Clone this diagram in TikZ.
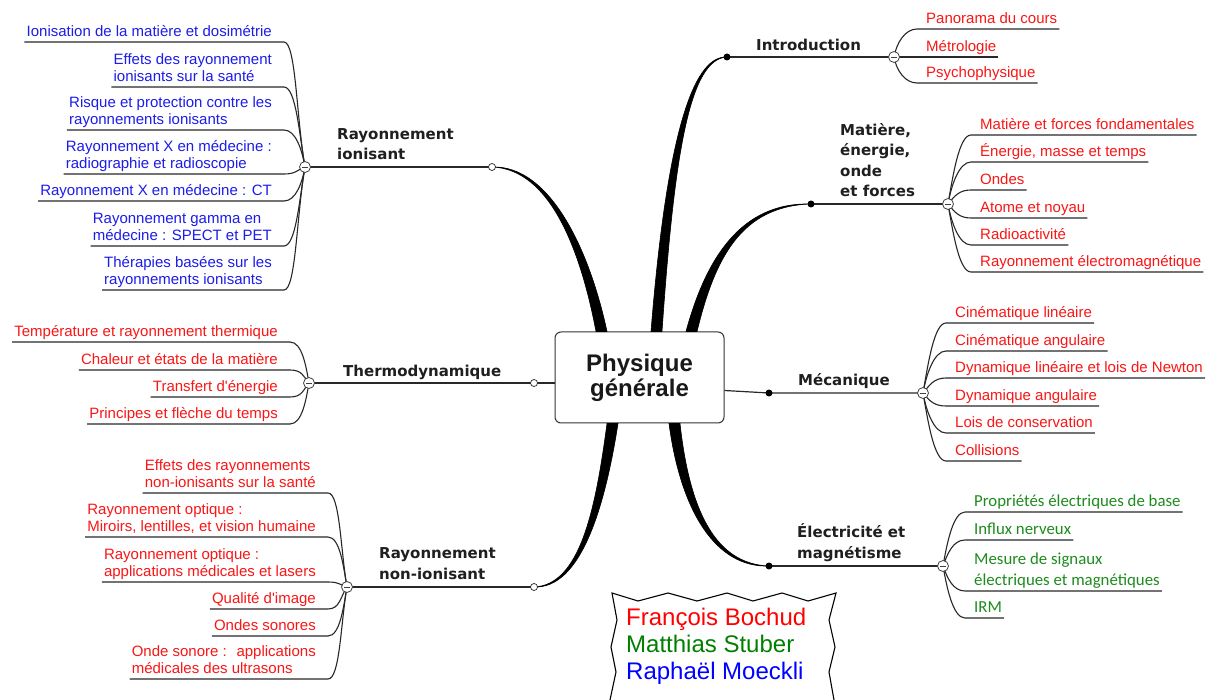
\documentclass[tikz,border=0pt]{standalone}
\usepackage{fontspec}
\setmainfont{Liberation Sans}
\newfontfamily\headfont{DejaVu Sans}
\newfontfamily\calfont{Carlito}
\usetikzlibrary{calc}
\definecolor{lred}{RGB}{250,22,22}
\definecolor{lblue}{RGB}{28,28,235}
\definecolor{lgreen}{RGB}{30,140,30}
\definecolor{agreen}{RGB}{0,128,0}
\definecolor{ablue}{RGB}{0,0,255}
\definecolor{ared}{RGB}{255,0,0}
\definecolor{linec}{RGB}{40,40,40}
\newcommand\ml[1]{\begin{tabular}[b]{@{}l@{}}#1\end{tabular}}
% left leaf: opts, name, circle, x of text right, y of underline, out angle, text
\newcommand\lleaf[7]{%
  \node[leafL,#1] (#2) at (#4,#5-5.5) {\ml{#7}};
  \draw[fan] (#3) to[out=#6,in=0,in distance=12pt] ($(#2.base east)+(12,5.5)$) -- ($(#2.base west)+(-2,5.5)$);}
% right leaf: opts, name, circle, x of text left, y of underline, out angle, text
\newcommand\rleaf[7]{%
  \node[leafR,#1] (#2) at (#4,#5-5.5) {\ml{#7}};
  \draw[fan] (#3) to[out=#6,in=180,in distance=12pt] ($(#2.base west)+(-9,5.5)$) -- ($(#2.base east)+(2,5.5)$);}
% tapered trunk: start, c1, c2, end, offset1, offset2
\newcommand\trunk[6]{%
  \filldraw[trunkst] ($(#1)+(-5.5,0)$) .. controls ($(#2)+(-4.5,0)$) and ($(#3)+(0,#5)$) .. (#4)
    .. controls ($(#3)+(0,#6)$) and ($(#2)+(4.5,0)$) .. ($(#1)+(5.5,0)$) -- cycle;}
\begin{document}
\begin{tikzpicture}[x=1pt,y=-1pt,
 leafL/.style={inner sep=0pt, anchor=base east, font=\fontsize{15}{17}\selectfont},
 leafR/.style={inner sep=0pt, anchor=base west, font=\fontsize{15}{17}\selectfont},
 gleaf/.style={font=\calfont\fontsize{16.8}{21}\selectfont, text=lgreen},
 fan/.style={draw=linec, line width=1.1pt},
 mainline/.style={draw=linec, line width=1.2pt},
 head/.style={inner sep=0pt, anchor=base west, text=black!88, font=\headfont\bfseries\fontsize{15}{20.5}\selectfont},
 trunkst/.style={fill=black, draw=black, line width=0.6pt},
 opencirc/.style={circle, draw=black!85, fill=white, line width=0.7pt, inner sep=0pt, minimum size=7pt},
 dotc/.style={circle, fill=black, inner sep=0pt, minimum size=7pt},
 minusc/.style={circle, draw=black!75, fill=white, line width=0.8pt, inner sep=0pt, minimum size=11pt,
   path picture={\draw[line width=0.9pt] ([xshift=-2.6pt]path picture bounding box.center) -- ([xshift=2.6pt]path picture bounding box.center);}},
 rootst/.style={draw=black!80, fill=white, line width=1pt, rounded corners=6pt, minimum width=169pt, minimum height=91pt, inner sep=0pt, align=center, font=\bfseries\fontsize{24}{25}\selectfont, text=black!90}
]
\useasboundingbox (0,0) rectangle (1213,700);
\clip (0,0) rectangle (1213,700);
\fill[white] (0,0) rectangle (1213,700);

% junction points
\coordinate (o1) at (492,167);
\coordinate (o2) at (534,383);
\coordinate (o3) at (534,587);
\coordinate (d1) at (727,57);
\coordinate (d2) at (811,204);
\coordinate (d3) at (769,393);
\coordinate (d4) at (769,566);
\coordinate (m1) at (305,167);
\coordinate (m2) at (309,383);
\coordinate (m3) at (347,587);
\coordinate (m4) at (894,57);
\coordinate (m5) at (948,204);
\coordinate (m6) at (923,393);
\coordinate (m7) at (943,566);

% central node
\node[rootst] (root) at (639.5,377.5) {Physique\\générale};

\coordinate (s1) at ($(root.north west)+(47,0)$);
\coordinate (s2) at ($(root.north west)+(102,0)$);
\coordinate (s3) at ($(root.north west)+(137,0)$);
\coordinate (s4) at ($(root.south west)+(58,0)$);
\coordinate (s5) at ($(root.south west)+(120,0)$);

% trunks
\trunk{s1}{585,250}{550,167}{o1}{2}{-2}
\trunk{s2}{670,150}{690,57}{d1}{-2}{2}
\trunk{s3}{710,260}{740,204}{d2}{-2}{2}
\trunk{s4}{600,510}{580,587}{o3}{-2}{2}
\trunk{s5}{685,510}{715,566}{d4}{2}{-2}

% main lines
\draw[mainline] (m1) -- (o1);
\draw[mainline] (m2) -- (o2) -- (o2 -| root.west);
\draw[mainline] (m3) -- (o3);
\draw[mainline] (d1) -- (m4);
\draw[mainline] (d2) -- (m5);
\draw[mainline] ($(root.east)+(0,13)$) -- (d3) -- (m6);
\draw[mainline] (d4) -- (m7);

% headings
\node[head] (h1) at (337,160) {\ml{Rayonnement\\ionisant}};
\node[head] (h2) at (343,377) {\ml{Thermodynamique}};
\node[head] (h3) at (379,579) {\ml{Rayonnement\\non-ionisant}};
\node[head] (h4) at (756,51) {\ml{Introduction}};
\node[head] (h5) at (840,197) {\ml{Matière,\\énergie,\\onde\\et forces}};
\node[head] (h6) at (798,386) {\ml{Mécanique}};
\node[head] (h7) at (797,558) {\ml{Électricité et\\magnétisme}};

% Rayonnement ionisant
\lleaf{text=lblue}{L1}{m1}{272}{42}{100}{Ionisation de la matière et dosimétrie}
\lleaf{text=lblue}{L2}{m1}{272}{87}{100}{Effets des rayonnement\\ionisants sur la santé}
\lleaf{text=lblue}{L3}{m1}{272}{130}{100}{Risque et protection contre les\\rayonnements ionisants}
\lleaf{text=lblue}{L4}{m1}{272}{174}{200}{Rayonnement X en médecine :\\radiographie et radioscopie}
\lleaf{text=lblue}{L5}{m1}{272}{201}{260}{Rayonnement X en médecine : CT}
\lleaf{text=lblue}{L6}{m1}{272}{246}{260}{Rayonnement gamma en\\médecine : SPECT et PET}
\lleaf{text=lblue}{L7}{m1}{272}{290}{260}{Thérapies basées sur les\\rayonnements ionisants}

% Thermodynamique
\lleaf{text=lred}{T1}{m2}{278}{342}{100}{Température et rayonnement thermique}
\lleaf{text=lred}{T2}{m2}{278}{370}{130}{Chaleur et états de la matière}
\lleaf{text=lred}{T3}{m2}{278}{397}{230}{Transfert d\textquotesingle énergie}
\lleaf{text=lred}{T4}{m2}{278}{424}{260}{Principes et flèche du temps}

% Rayonnement non-ionisant
\lleaf{text=lred}{N1}{m3}{316}{493}{100}{Effets des rayonnements\\non-ionisants sur la santé}
\lleaf{text=lred}{N2}{m3}{316}{537}{100}{Rayonnement optique :\\Miroirs, lentilles, et vision humaine}
\lleaf{text=lred}{N3}{m3}{316}{582}{165}{Rayonnement optique :\\applications médicales et lasers}
\lleaf{text=lred}{N4}{m3}{316}{609}{235}{Qualité d\textquotesingle image}
\lleaf{text=lred}{N5}{m3}{316}{636}{260}{Ondes sonores}
\lleaf{text=lred}{N6}{m3}{316}{679}{260}{Onde sonore :~ applications\\médicales des ultrasons}

% Introduction
\rleaf{text=lred}{I1}{m4}{926}{29}{80}{Panorama du cours}
\rleaf{text=lred}{I2}{m4}{926}{57}{0}{Métrologie}
\rleaf{text=lred}{I3}{m4}{926}{83}{-80}{Psychophysique}

% Matiere
\rleaf{text=lred}{M1}{m5}{980}{135}{80}{Matière et forces fondamentales}
\rleaf{text=lred}{M2}{m5}{980}{162}{80}{Énergie, masse et temps}
\rleaf{text=lred}{M3}{m5}{980}{190}{50}{Ondes}
\rleaf{text=lred}{M4}{m5}{980}{218}{-50}{Atome et noyau}
\rleaf{text=lred}{M5}{m5}{980}{245}{-80}{Radioactivité}
\rleaf{text=lred}{M6}{m5}{980}{272}{-80}{Rayonnement électromagnétique}

% Mecanique
\rleaf{text=lred}{K1}{m6}{955}{323}{80}{Cinématique linéaire}
\rleaf{text=lred}{K2}{m6}{955}{351}{80}{Cinématique angulaire}
\rleaf{text=lred}{K3}{m6}{955}{378}{50}{Dynamique linéaire et lois de Newton}
\rleaf{text=lred}{K4}{m6}{955}{406}{-50}{Dynamique angulaire}
\rleaf{text=lred}{K5}{m6}{955}{433}{-80}{Lois de conservation}
\rleaf{text=lred}{K6}{m6}{955}{461}{-80}{Collisions}

% Electricite
\rleaf{gleaf}{E1}{m7}{974}{512}{80}{Propriétés électriques de base}
\rleaf{gleaf}{E2}{m7}{974}{540}{70}{Influx nerveux}
\rleaf{gleaf}{E3}{m7}{974}{591}{-70}{Mesure de signaux\\électriques et magnétiques}
\rleaf{gleaf}{E4}{m7}{974}{618}{-80}{IRM}

% junction markers
\foreach \c in {o1,o2,o3} \node[opencirc] at (\c) {};
\foreach \c in {d1,d2,d3,d4} \node[dotc] at (\c) {};
\foreach \c in {m1,m2,m3,m4,m5,m6,m7} \node[minusc] at (\c) {};

% authors
\draw[line width=1.1pt, fill=white] (612,593) -- (638,601) -- (668,593) -- (697,601) -- (727,593) -- (753,601)
  -- (782,593) -- (808,601) -- (836,593) -- (829,620) -- (835,647) -- (829,672) -- (834,700) -- (834,712)
  -- (610,712) -- (610,700) -- (616,672) -- (611,647) -- (617,620) -- cycle;
\node[inner sep=0pt, anchor=base west, font=\fontsize{24}{27}\selectfont] (authors) at (626,679)
  {\ml{\textcolor{ared}{François Bochud}\\\textcolor{agreen}{Matthias Stuber}\\\textcolor{ablue}{Raphaël Moeckli}}};
\end{tikzpicture}
\end{document}
